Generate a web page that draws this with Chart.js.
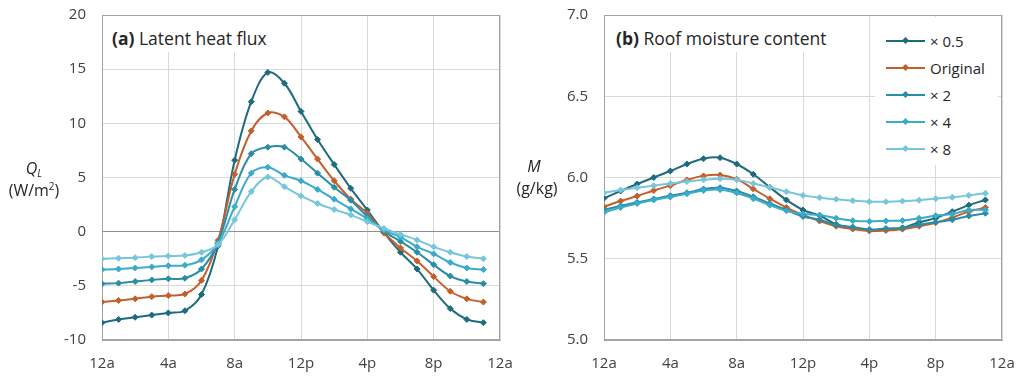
<!DOCTYPE html>
<html><head><meta charset="utf-8">
<script src="https://cdn.jsdelivr.net/npm/chart.js@4"></script>
<style>
body{margin:0;background:#fff;width:1024px;height:382px;overflow:hidden;position:relative;font-family:'Open Sans',sans-serif;color:#262626}
canvas{position:absolute;top:0}
.t{position:absolute;white-space:nowrap;font-size:16px;line-height:20px}
.ttl{position:absolute;white-space:nowrap;font-size:17.5px;line-height:22px;background:#fff;padding:11px 6px 3px 4px}
#legend{position:absolute;left:875px;top:17px;width:123px;height:148px;background:#fff}
.li{position:absolute;left:11px;height:20px;font-size:15px;line-height:20px}
.ln{position:absolute;left:0;top:9px;width:39px;height:2px}
.mk{position:absolute;left:17px;top:7px;width:5px;height:5px;transform:rotate(45deg)}
.lt{position:absolute;left:44px;top:0;white-space:nowrap}
</style></head><body>
<canvas id="c1" width="530" height="382" style="left:0"></canvas>
<canvas id="c2" width="524" height="382" style="left:500px"></canvas>

<div class="ttl" style="left:108px;top:16px"><b>(a)</b> Latent heat flux</div>
<div class="ttl" style="left:612px;top:16px"><b>(b)</b> Roof moisture content</div>

<div class="t" style="left:0;width:68px;text-align:center;top:158px"><i>Q<sub style="font-size:10px;vertical-align:-3px">L</sub></i></div>
<div class="t" style="left:0;width:68px;text-align:center;top:180px">(W/m<sup style="font-size:10px;vertical-align:6px;line-height:0">2</sup>)</div>
<div class="t" style="left:502px;width:64px;text-align:center;top:156px"><i>M</i></div>
<div class="t" style="left:505px;width:64px;text-align:center;top:178px">(g/kg)</div>

<div id="legend"></div>

<script>
const hours = [0,1,2,3,4,5,6,7,8,9,10,11,12,13,14,15,16,17,18,19,20,21,22,23];
const xTickLabels = ['12a','4a','8a','12p','4p','8p','12a'];
const seriesNames = ['\u00d7 0.5','Original','\u00d7 2','\u00d7 4','\u00d7 8'];
const colors = ['#1f6b7e','#c45f2c','#2a8da6','#3aabcb','#77c6da'];

// (a) Latent heat flux, W/m2
const qHalf = [-8.4,-8.1,-7.9,-7.7,-7.5,-7.3,-5.8,-1.3,6.6,12.0,14.7,13.7,11.1,8.5,6.2,4.0,2.0,-0.1,-1.9,-3.45,-5.4,-7.1,-8.1,-8.4];
const qOrig = [-6.5,-6.35,-6.2,-6.0,-5.9,-5.75,-4.5,-0.8,5.3,9.3,10.95,10.6,8.75,6.7,4.7,3.0,1.7,-0.1,-1.5,-2.7,-4.15,-5.5,-6.2,-6.5];
const qX2 = [-4.8,-4.75,-4.6,-4.45,-4.35,-4.3,-3.45,-1.0,3.9,7.2,7.8,7.8,6.7,5.4,4.1,2.9,1.4,0.05,-0.9,-1.9,-3.05,-4.1,-4.6,-4.8];
const qX4 = [-3.5,-3.45,-3.35,-3.25,-3.15,-3.1,-2.6,-1.1,2.3,5.4,5.95,5.2,4.7,3.9,3.0,2.1,1.2,0.15,-0.5,-1.4,-2.05,-2.85,-3.35,-3.5];
const qX8 = [-2.5,-2.45,-2.4,-2.3,-2.25,-2.2,-1.9,-1.2,1.1,3.7,5.05,4.15,3.3,2.6,2.05,1.55,0.92,0.3,-0.25,-0.77,-1.4,-1.9,-2.3,-2.5];

// (b) Roof moisture content, g/kg
const mHalf = [5.872,5.917,5.96,6.0,6.04,6.083,6.116,6.122,6.083,6.02,5.94,5.862,5.80,5.765,5.712,5.691,5.677,5.68,5.69,5.724,5.75,5.79,5.83,5.862];
const mOrig = [5.82,5.855,5.886,5.92,5.95,5.985,6.01,6.015,5.99,5.93,5.87,5.815,5.77,5.732,5.70,5.683,5.671,5.674,5.682,5.70,5.722,5.753,5.79,5.815];
const mX2 = [5.80,5.825,5.847,5.868,5.888,5.906,5.929,5.937,5.917,5.882,5.84,5.80,5.76,5.74,5.708,5.695,5.68,5.686,5.69,5.71,5.725,5.74,5.763,5.78];
const mX4 = [5.785,5.815,5.84,5.862,5.88,5.90,5.92,5.925,5.905,5.87,5.83,5.795,5.775,5.769,5.749,5.734,5.73,5.733,5.735,5.749,5.765,5.775,5.80,5.80];
const mX8 = [5.906,5.923,5.937,5.95,5.963,5.975,5.986,5.993,5.986,5.963,5.94,5.913,5.89,5.876,5.866,5.857,5.851,5.851,5.855,5.86,5.87,5.878,5.89,5.903];

const FONT = {family:"'Open Sans', sans-serif", size:15};
const TICK_COLOR = '#404040';

const boxPlugin = {
  id:'box',
  beforeDatasetsDraw(chart){
    const {ctx, chartArea:a} = chart;
    ctx.save();
    ctx.strokeStyle = '#a3a3a3';
    ctx.lineWidth = 1;
    const l = Math.round(a.left)+0.5, t = Math.round(a.top)+0.5;
    const r = Math.round(a.right)-0.5, b = Math.round(a.bottom)-0.5;
    ctx.strokeRect(l, t, r-l, b-t);
    ctx.restore();
  }
};

function makeChart(id, series, yMin, yMax, yStep, yFmt, yWidth, padRight, zeroLine){
  return new Chart(document.getElementById(id), {
    type:'line',
    data:{
      datasets: series.map((s,i)=>({
        label: seriesNames[i],
        data: s.map((v,h)=>({x:hours[h], y:v})),
        borderColor: colors[i],
        backgroundColor: colors[i],
        borderWidth: 2,
        pointStyle: 'rectRot',
        pointRadius: 3,
        pointHoverRadius: 3,
        pointBorderWidth: 1,
        tension: 0.35,
        fill: false
      })).reverse()
    },
    options:{
      responsive:false, animation:false, devicePixelRatio:1,
      layout:{padding:{left:0,right:padRight,top:15,bottom:0}},
      plugins:{legend:{display:false}, tooltip:{enabled:false}},
      scales:{
        x:{
          type:'linear', min:0, max:24,
          ticks:{stepSize:4, autoSkip:false, maxRotation:0, callback:v=>xTickLabels[Math.round(v/4)], font:FONT, color:TICK_COLOR, padding:15},
          grid:{color:'#d9d9d9', drawTicks:false, lineWidth:1},
          border:{color:'#a3a3a3'},
          afterFit:s=>{s.height=42; s.paddingLeft=0; s.paddingRight=0;}
        },
        y:{
          type:'linear', min:yMin, max:yMax,
          ticks:{stepSize:yStep, callback:yFmt, font:FONT, color:TICK_COLOR, padding:16},
          grid:{color:c=>(zeroLine && c.tick && Math.abs(c.tick.value)<1e-9)?'#8f8f8f':'#d9d9d9', drawTicks:false, lineWidth:1},
          border:{color:'#8f8f8f'},
          afterFit:s=>{s.width=yWidth; s.paddingTop=0; s.paddingBottom=0;}
        }
      }
    },
    plugins:[boxPlugin]
  });
}

makeChart('c1', [qHalf,qOrig,qX2,qX4,qX8], -10, 20, 5, v=>String(v), 102, 30, true);
makeChart('c2', [mHalf,mOrig,mX2,mX4,mX8], 5, 7, 0.5, v=>Number(v).toFixed(1), 104, 22, false);

// legend
const lg = document.getElementById('legend');
const rowTops = [14, 41, 68, 95, 122];
seriesNames.forEach((n,i)=>{
  const d = document.createElement('div');
  d.className='li'; d.style.top = rowTops[i]+'px';
  d.innerHTML = '<div class="ln" style="background:'+colors[i]+'"></div><div class="mk" style="background:'+colors[i]+'"></div><div class="lt">'+n+'</div>';
  lg.appendChild(d);
});
</script>
</body></html>
